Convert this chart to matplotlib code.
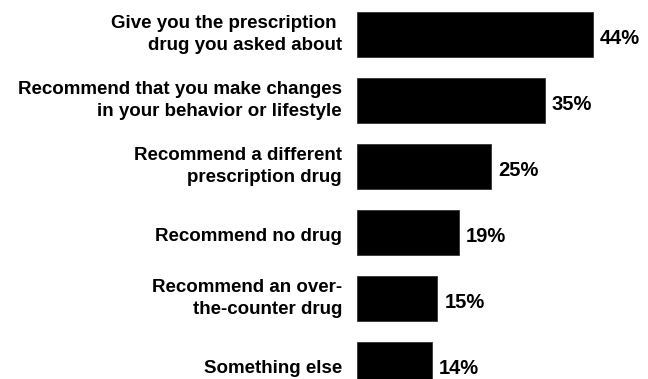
import matplotlib
matplotlib.use("Agg")
import matplotlib.pyplot as plt

categories = [
    "Give you the prescription \ndrug you asked about",
    "Recommend that you make changes\nin your behavior or lifestyle",
    "Recommend a different\nprescription drug",
    "Recommend no drug",
    "Recommend an over-\nthe-counter drug",
    "Something else",
]
values = [44, 35, 25, 19, 15, 14]
value_labels = ["44%", "35%", "25%", "19%", "15%", "14%"]

plt.rcParams["font.family"] = ["Liberation Sans", "DejaVu Sans"]

W, H = 648, 379
fig = plt.figure(figsize=(W / 100, H / 100), dpi=100)
left_px = 357
ax = fig.add_axes([left_px / W, 0, 1 - left_px / W, 1])

px_per_unit = 5.36
ax.set_xlim(0, (W - left_px) / px_per_unit)
step = 66.0
first_center = 34.5
ax.set_ylim((H - first_center) / step, -first_center / step)

pos = list(range(len(values)))
ax.barh(pos, values, height=45 / step, color="black", edgecolor="#333333", linewidth=0.6)

text_offset = 4 / step
for p, v, lab in zip(pos, values, value_labels):
    ax.text(v + 7 / px_per_unit, p + text_offset, lab, ha="left", va="center",
            fontsize=14.5, fontweight="bold", color="black")

for p, cat in zip(pos, categories):
    off = 0 if "\n" in cat else text_offset
    ax.text(-15 / px_per_unit, p + off, cat, ha="right", va="center",
            multialignment="right", fontsize=13.5, fontweight="bold", color="black",
            linespacing=1.4, clip_on=False)

ax.axis("off")
fig.savefig("out.png", dpi=100)
